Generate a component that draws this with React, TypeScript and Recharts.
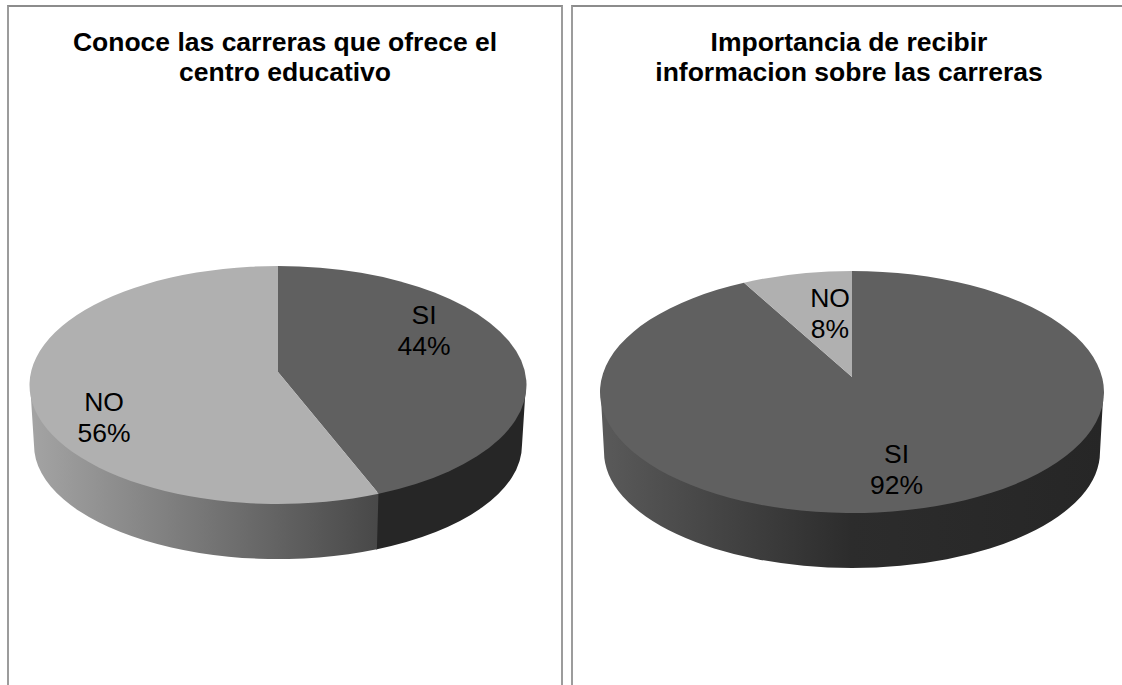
import React from 'react';
import { PieChart, Pie, Cell } from 'recharts';

const categoriesLeft = ['SI', 'NO'];
const valuesLeft = [44, 56];
const categoriesRight = ['SI', 'NO'];
const valuesRight = [92, 8];

const titleLeft = ['Conoce las carreras que ofrece el', 'centro educativo'];
const titleRight = ['Importancia de recibir', 'informacion sobre las carreras'];

const FONT = '"Liberation Sans", Arial, sans-serif';
const TOP_COLORS: Record<string, string> = { SI: '#606060', NO: '#b0b0b0' };

interface Geometry {
  apexY: number;
  topCy: number;
  ry: number;
  bottomCy: number;
  bottomRx: number;
  bottomRy: number;
}

const rad = (deg: number) => (deg * Math.PI) / 180;

// where a slice edge leaves the apex and hits the rim: the apex sits above the ellipse centre
const rimPoint = (deg: number, g: Geometry) => {
  const dx = Math.sin(rad(deg));
  const dy = -Math.cos(rad(deg));
  const ay = (g.apexY - g.topCy) / g.ry;
  const dot = ay * dy;
  const t = -dot + Math.sqrt(dot * dot - (ay * ay - 1));
  return { x: t * dx, y: ay + t * dy };
};

const topSlice = (g: Geometry) => (props: any) => {
  const { cx, startAngle, endAngle, outerRadius, fill } = props;
  const rx = outerRadius;
  const a = rimPoint(90 - startAngle, g);
  const b = rimPoint(90 - endAngle, g);
  const large = startAngle - endAngle > 180 ? 1 : 0;
  const d = `M${cx},${g.apexY} L${cx + a.x * rx},${g.topCy + a.y * g.ry} A${rx},${g.ry} 0 ${large} 1 ${cx + b.x * rx},${g.topCy + b.y * g.ry} Z`;
  return <path d={d} fill={fill} />;
};

const paramOf = (deg: number, g: Geometry) => {
  const p = rimPoint(deg, g);
  return Math.atan2(p.x, -p.y);
};

const sideSlice = (g: Geometry) => (props: any) => {
  const { cx, startAngle, endAngle, outerRadius, fill } = props;
  const rx = outerRadius;
  let from = paramOf(90 - startAngle, g);
  let to = paramOf(90 - endAngle, g);
  if (from < 0) from += Math.PI * 2;
  if (to <= 0) to += Math.PI * 2;
  // only the front half of the rim can be seen
  const lo = Math.max(from, Math.PI / 2);
  const hi = Math.min(to + 0.004, (Math.PI * 3) / 2);
  if (hi <= lo) return <g />;
  const pt = (t: number, r: number, yc: number, ry: number) => `${cx + Math.sin(t) * r},${yc - Math.cos(t) * ry}`;
  // top arc tucked under the face so no white seam shows
  const topY = g.topCy - 2;
  const d = `M${pt(lo, rx - 0.5, topY, g.ry)} A${rx - 0.5},${g.ry} 0 0 1 ${pt(hi, rx - 0.5, topY, g.ry)} L${pt(hi, g.bottomRx, g.bottomCy, g.bottomRy)} A${g.bottomRx},${g.bottomRy} 0 0 0 ${pt(lo, g.bottomRx, g.bottomCy, g.bottomRy)} Z`;
  return <path d={d} fill={fill} />;
};

interface PanelProps {
  id: string;
  left: number;
  width: number;
  title: string[];
  categories: string[];
  values: number[];
  cx: number;
  rx: number;
  geometry: Geometry;
  sideStops: string[];
  labelPos: { x: number; y: number }[];
}

const Panel: React.FC<PanelProps> = ({ left, width, title, categories, values, cx, rx, geometry, sideStops, labelPos, id }) => {
  const data = categories.map((name, i) => ({ name, value: values[i] }));
  const renderLabel = (props: any) => {
    const { index } = props;
    const p = labelPos[index];
    return (
      <text key={index} x={p.x} y={p.y} textAnchor="middle" fontFamily={FONT} fontSize={26.5} fill="#000">
        <tspan x={p.x} dy={0}>{data[index].name}</tspan>
        <tspan x={p.x} dy={31}>{data[index].value}%</tspan>
      </text>
    );
  };
  return (
    <div style={{ position: 'absolute', left, top: 5, width, height: 700, borderLeft: '2px solid #9c9c9c', borderTop: '2px solid #8c8c8c', borderRight: '2px solid #9c9c9c', boxSizing: 'border-box' }}>
      <div style={{ position: 'absolute', left: 0, right: 0, top: 19.5, textAlign: 'center', fontFamily: FONT, fontWeight: 'bold', fontSize: 26.5, lineHeight: '30.5px', color: '#000', whiteSpace: 'nowrap' }}>
        {title.map(line => <div key={line}>{line}</div>)}
      </div>
      <div style={{ position: 'absolute', left: -left - 2, top: -7 }}>
        <PieChart width={1122} height={685} margin={{ top: 0, right: 0, bottom: 0, left: 0 }}>
          <defs>
            <linearGradient id={`${id}-side`} x1="0" y1="0" x2="1" y2="0">
              {sideStops.map((c, i) => (
                <stop key={i} offset={`${(i * 100) / (sideStops.length - 1)}%`} stopColor={c} />
              ))}
            </linearGradient>
          </defs>
          <Pie
            data={data}
            dataKey="value"
            cx={cx}
            cy={geometry.apexY}
            outerRadius={rx}
            startAngle={90}
            endAngle={-270}
            stroke="none"
            isAnimationActive={false}
            shape={sideSlice(geometry)}
          >
            {categories.map(name => (
              <Cell key={name} fill={name === 'NO' || (values[0] > 50 && name === 'SI') ? `url(#${id}-side)` : '#262626'} />
            ))}
          </Pie>
          <Pie
            data={data}
            dataKey="value"
            cx={cx}
            cy={geometry.apexY}
            outerRadius={rx}
            startAngle={90}
            endAngle={-270}
            stroke="none"
            isAnimationActive={false}
            shape={topSlice(geometry)}
            label={renderLabel}
            labelLine={false}
          >
            {categories.map(name => (
              <Cell key={name} fill={TOP_COLORS[name]} />
            ))}
          </Pie>
        </PieChart>
      </div>
    </div>
  );
};

export default function App() {
  return (
    <div style={{ position: 'absolute', left: 0, top: 0, width: 1122, height: 685, overflow: 'hidden', background: '#fff' }}>
      <Panel
        id="left"
        left={7}
        width={556}
        title={titleLeft}
        categories={categoriesLeft}
        values={valuesLeft}
        cx={278}
        rx={248.5}
        geometry={{ apexY: 372, topCy: 385, ry: 119, bottomCy: 445, bottomRx: 244, bottomRy: 114 }}
        sideStops={['#a4a4a4', '#484848']}
        labelPos={[{ x: 424, y: 324 }, { x: 104, y: 411 }]}
      />
      <Panel
        id="right"
        left={571}
        width={556}
        title={titleRight}
        categories={categoriesRight}
        values={valuesRight}
        cx={852}
        rx={252}
        geometry={{ apexY: 377, topCy: 392, ry: 121, bottomCy: 452, bottomRx: 248, bottomRy: 116 }}
        sideStops={['#5a5a5a', '#2c2c2c', '#262626']}
        labelPos={[{ x: 896.5, y: 463 }, { x: 830, y: 307 }]}
      />
    </div>
  );
}
